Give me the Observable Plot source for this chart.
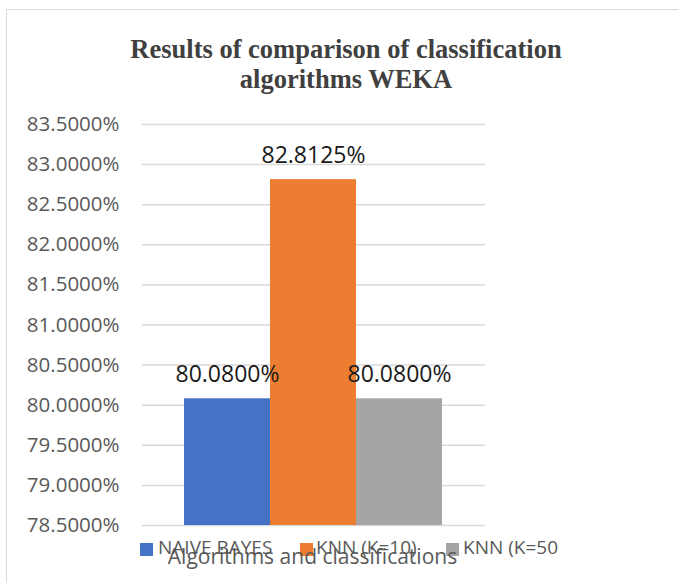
<!DOCTYPE html>
<html>
<head>
<meta charset="utf-8">
<script src="https://cdn.jsdelivr.net/npm/d3@7"></script>
<script src="https://cdn.jsdelivr.net/npm/@observablehq/plot@0.6"></script>
<style>
  html, body { margin: 0; padding: 0; background: #fff; }
  #wrap { position: relative; width: 678px; height: 583px; overflow: hidden; font-family: "Open Sans", sans-serif; }
  #frame { position: absolute; left: 6px; top: 9px; width: 700px; height: 600px; border: 1.5px solid #d9d9d9; box-sizing: border-box; }
  #title { position: absolute; left: 0; width: 692px; top: 33.5px; text-align: center; font-family: "Liberation Serif", serif; font-weight: bold; font-size: 26.5px; line-height: 30px; color: #404040; white-space: nowrap; }
  #chart { position: absolute; left: 0; top: 0; }
  #legend { position: absolute; top: 0; left: 0; width: 678px; height: 583px; font-size: 19px; color: #595959; }
  .sw { position: absolute; width: 13px; height: 13px; top: 543px; }
  .lt { position: absolute; white-space: nowrap; top: 532px; line-height: 30px; }
  #xtitle { position: absolute; top: 541px; left: 0; width: 625px; text-align: center; font-size: 21px; color: #595959; line-height: 30px; white-space: nowrap; }
</style>
</head>
<body>
<div id="wrap">
  <div id="frame"></div>
  <div id="chart"></div>
  <div id="title">Results of comparison of classification<br>algorithms WEKA</div>
  <div id="legend"></div>
  <div id="xtitle">Algorithms and classifications</div>
</div>
<script>
const categories = ["NAIVE BAYES", "KNN (K=10)", "KNN (K=50"];
const values = [80.08, 82.8125, 80.08];
const colors = ["#4472C4", "#ED7D31", "#A5A5A5"];
const yTicks = [78.5, 79, 79.5, 80, 80.5, 81, 81.5, 82, 82.5, 83, 83.5];

const data = categories.map((c, i) => ({category: c, value: values[i]}));
const fmt = d => d.toFixed(4) + "%";

const chart = Plot.plot({
  width: 678,
  height: 583,
  marginLeft: 142,
  marginRight: 193,
  marginTop: 124,
  marginBottom: 58,
  style: {fontFamily: "Open Sans, sans-serif", background: "transparent", overflow: "visible"},
  x: {domain: categories, padding: 0, insetLeft: 42, insetRight: 43, axis: null},
  y: {domain: [78.5, 83.5], ticks: yTicks, tickFormat: fmt, label: null, axis: null},
  color: {domain: categories, range: colors},
  marks: [
    Plot.ruleY(yTicks, {stroke: "#d9d9d9", strokeWidth: 1.5}),
    Plot.barY(data, {x: "category", y1: 78.5, y2: "value", fill: "category"}),
    Plot.text(data, {x: "category", y: "value", text: d => fmt(d.value), lineAnchor: "bottom", dy: -17, fontSize: 23, fill: "#1a1a1a"}),
    Plot.axisY({ticks: yTicks, tickFormat: fmt, tickSize: 0, tickPadding: 23, fontSize: 20.5, fill: "#595959", label: null})
  ]
});
document.getElementById("chart").appendChild(chart);

const swatchX = [140, 300, 446];
const textX = [158, 316, 463];
const legend = document.getElementById("legend");
categories.forEach((c, i) => {
  const sw = document.createElement("div");
  sw.className = "sw";
  sw.style.left = swatchX[i] + "px";
  sw.style.background = colors[i];
  legend.appendChild(sw);
  const t = document.createElement("div");
  t.className = "lt";
  t.style.left = textX[i] + "px";
  t.textContent = c;
  legend.appendChild(t);
});
</script>
</body>
</html>
